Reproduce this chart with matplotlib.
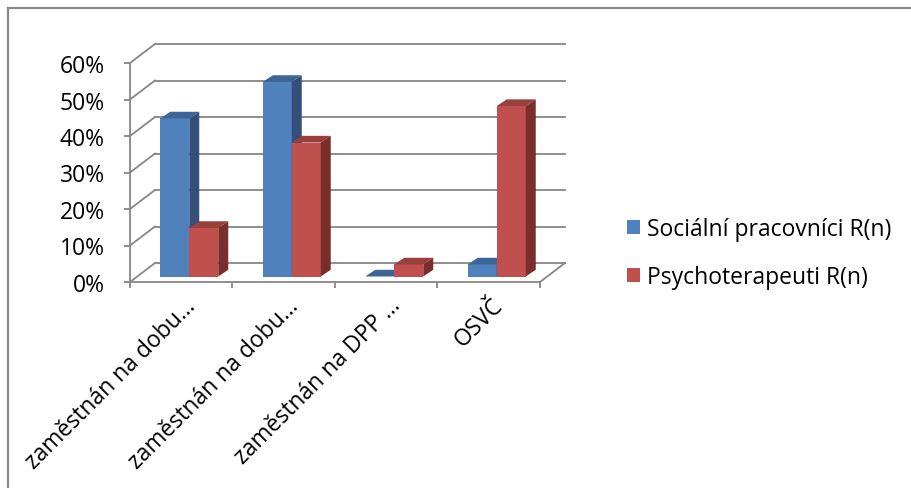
import matplotlib.pyplot as plt
from matplotlib.patches import Polygon, Patch
from matplotlib.lines import Line2D
from matplotlib.transforms import ScaledTranslation

# podíl respondentů podle formy zaměstnání (n = 30 v každé skupině)
categories = ["zaměstnán na dobu…", "zaměstnán na dobu…", "zaměstnán na DPP …", "OSVČ"]
socialni = [43.3, 53.3, 0.0, 3.3]
psycho = [13.3, 36.7, 3.3, 46.7]
series_names = ["Sociální pracovníci R(n)", "Psychoterapeuti R(n)"]
y_ticks = [0, 10, 20, 30, 40, 50, 60]

plt.rcParams['font.family'] = ['Open Sans', 'DejaVu Sans']
fs = 16.5

W, H = 912, 489
fig = plt.figure(figsize=(W / 100, H / 100), dpi=100)
ax = fig.add_axes([130 / W, 1 - 283 / H, 410 / W, 219 / H])
ax.set_xlim(0, len(categories))
ax.set_ylim(0, 60)

px_x = 410 / len(categories)
px_y = 219 / 60
grid_c = '#868686'
grid_lw = 1.3

# hloubka "3D" stěn a sloupců
wall_dx, wall_dy = 25 / px_x, 19 / px_y
bar_dx, bar_dy = 8 / px_x, 5.5 / px_y
depth_dx, depth_dy = 10 / px_x, 6.7 / px_y
bar_w = 29 / px_x

n = len(categories)
for v in y_ticks:
    ax.plot([wall_dx, n + wall_dx], [v + wall_dy, v + wall_dy], color=grid_c, lw=grid_lw,
            clip_on=False, zorder=1)
    ax.plot([0, wall_dx], [v, v + wall_dy], color=grid_c, lw=grid_lw, clip_on=False, zorder=1)
ax.plot([n, n + wall_dx], [0, wall_dy], color=grid_c, lw=grid_lw, clip_on=False, zorder=1)

colors = [
    ('#4F81BD', '#3E6597', '#344F78'),
    ('#C0504D', '#993F3C', '#7A2E2C'),
]

xs = [i + 0.5 + bar_dx for i in range(n)]
b1 = ax.bar([x - bar_w / 2 for x in xs], socialni, bar_w, bottom=bar_dy, color=colors[0][0],
            linewidth=0, clip_on=False)
b2 = ax.bar([x + bar_w / 2 for x in xs], psycho, bar_w, bottom=bar_dy, color=colors[1][0],
            linewidth=0, clip_on=False)

for i in range(n):
    for s, (cont, vals) in enumerate([(b1, socialni), (b2, psycho)]):
        z = 3 + (2 * i + s) * 0.1
        rect = cont.patches[i]
        rect.set_zorder(z)
        x0 = rect.get_x()
        x1 = x0 + bar_w
        y0 = bar_dy
        y1 = bar_dy + vals[i]
        top = Polygon([(x0, y1), (x1, y1), (x1 + depth_dx, y1 + depth_dy), (x0 + depth_dx, y1 + depth_dy)],
                      closed=True, facecolor=colors[s][1], edgecolor='none', zorder=z, clip_on=False)
        side = Polygon([(x1, y0), (x1 + depth_dx, y0 + depth_dy), (x1 + depth_dx, y1 + depth_dy), (x1, y1)],
                       closed=True, facecolor=colors[s][2], edgecolor='none', zorder=z, clip_on=False)
        ax.add_patch(top)
        ax.add_patch(side)

for sp in ['top', 'right']:
    ax.spines[sp].set_visible(False)
ax.spines['left'].set_bounds(0, 60)
ax.spines['bottom'].set_bounds(0, n)
for sp in ['left', 'bottom']:
    ax.spines[sp].set_color(grid_c)
    ax.spines[sp].set_linewidth(grid_lw)
    ax.spines[sp].set_zorder(2)

ax.set_yticks(y_ticks)
ax.set_yticklabels([f"{v}%" for v in y_ticks])
ax.tick_params(axis='y', direction='out', length=4.3, width=grid_lw, color=grid_c,
               pad=14, labelsize=fs, labelcolor='black')

ax.set_xticks(range(n + 1), minor=True)
ax.set_xticks([i + 0.5 for i in range(n)])
ax.set_xticklabels(categories, rotation=45, ha='right', va='center', rotation_mode='anchor')
ax.tick_params(axis='x', which='minor', direction='out', length=4.3, width=grid_lw, color=grid_c)
ax.tick_params(axis='x', which='major', length=0, pad=0, labelsize=fs, labelcolor='black')
shift = ScaledTranslation(11 / 100, -20 / 100, fig.dpi_scale_trans)
for lab in ax.get_xticklabels():
    lab.set_transform(lab.get_transform() + shift)

handles = [Patch(facecolor=colors[0][0]), Patch(facecolor=colors[1][0])]
fig.legend(handles, series_names, loc='center left', bbox_to_anchor=(606 / W, 1 - 254 / H),
           frameon=False, fontsize=fs, handlelength=0.6, handleheight=0.6,
           labelspacing=1.05, handletextpad=0.3)

# rámeček grafu
fig.add_artist(Line2D([8 / W, 1], [1 - 9 / H, 1 - 9 / H], transform=fig.transFigure,
                      color='#8a8a8a', lw=1.6))
fig.add_artist(Line2D([8 / W, 8 / W], [0, 1 - 9 / H], transform=fig.transFigure,
                      color='#8a8a8a', lw=1.6))

fig.savefig('out.png', dpi=100)
